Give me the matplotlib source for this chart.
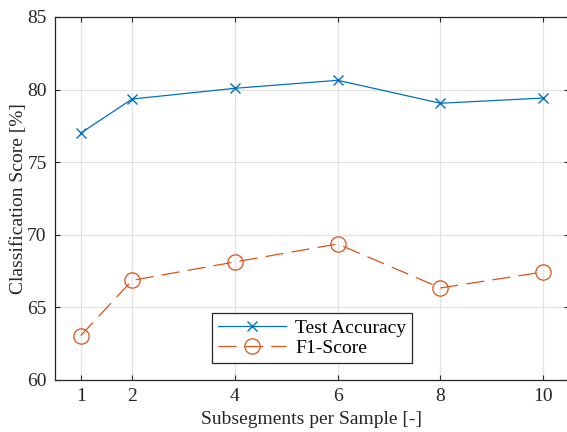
import matplotlib
matplotlib.use("Agg")
import matplotlib.pyplot as plt

subsegments = [1, 2, 4, 6, 8, 10]
test_accuracy = [77.0, 79.35, 80.09, 80.64, 79.06, 79.42]
f1_score = [63.05, 66.86, 68.13, 69.37, 66.34, 67.44]
yticks = [60, 65, 70, 75, 80, 85]

plt.rcParams['font.family'] = ['Liberation Serif', 'DejaVu Serif']
plt.rcParams['lines.scale_dashes'] = False

W, H = 567, 432
fig = plt.figure(figsize=(W/100, H/100), dpi=100)
ax = fig.add_axes([55/W, 52/H, (569-55)/W, (380-17)/H])

ax.plot(subsegments, test_accuracy, color='#0072BD', lw=0.9, marker='x',
        markersize=7.5, markeredgewidth=1.0, label='Test Accuracy')
ax.plot(subsegments, f1_score, color='#D95319', lw=0.9, marker='o',
        markersize=11, markerfacecolor='none', markeredgewidth=0.9,
        dashes=(13, 6), label='F1-Score')

ax.set_xlim(0.5, 10.5)
ax.set_ylim(60, 85)
ax.set_xticks(subsegments)
ax.set_yticks(yticks)
ax.grid(True, color='#e3e3e3', lw=0.9)
ax.set_axisbelow(True)
for s in ax.spines.values():
    s.set_color('#262626')
    s.set_linewidth(0.9)
ax.tick_params(direction='in', length=3.5, width=0.8, colors='#262626',
               labelsize=14, top=True, right=True, pad=6)
ax.set_xlabel('Subsegments per Sample [-]', fontsize=14, color='#262626', labelpad=4)
ax.set_ylabel('Classification Score [%]', fontsize=14, color='#262626', labelpad=0)

leg = ax.legend(loc='lower center', bbox_to_anchor=(0.5, 17/363), borderaxespad=0,
                fontsize=14, fancybox=False, framealpha=1, edgecolor='#262626',
                handlelength=3.5, borderpad=0.3, labelspacing=0.15, handletextpad=0.5)
leg.get_frame().set_linewidth(0.9)

fig.savefig('out.png', dpi=100)
